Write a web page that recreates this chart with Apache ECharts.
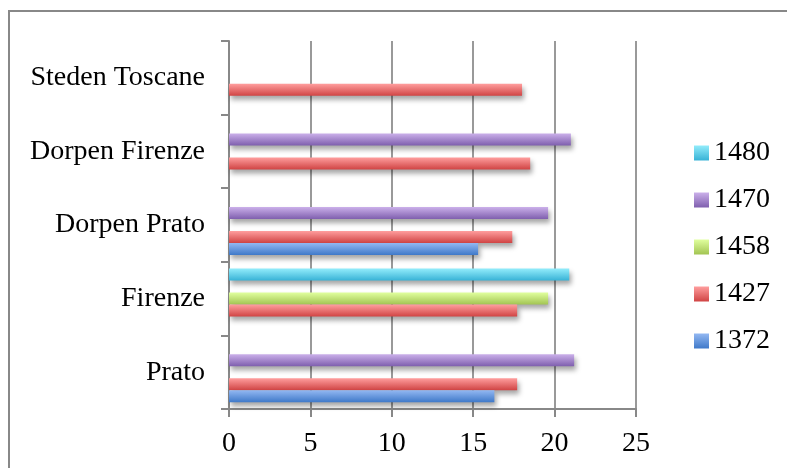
<!DOCTYPE html>
<html>
<head>
<meta charset="utf-8">
<script src="https://cdn.jsdelivr.net/npm/echarts@6/dist/echarts.min.js"></script>
<style>
html,body{margin:0;padding:0;background:#fff;}
#c{width:787px;height:468px;}
</style>
</head>
<body>
<div id="c"></div>
<script>
var categories = ['Prato', 'Firenze', 'Dorpen Prato', 'Dorpen Firenze', 'Steden Toscane'];
var seriesNames = ['1372', '1427', '1458', '1470', '1480'];
var v1372 = [16.3, null, 15.3, null, null];
var v1427 = [17.7, 17.7, 17.4, 18.5, 18.0];
var v1458 = [null, 19.6, null, null, null];
var v1470 = [21.2, null, 19.6, 21.0, null];
var v1480 = [null, 20.9, null, null, null];
var xTicks = [0, 5, 10, 15, 20, 25];

var values = [v1372, v1427, v1458, v1470, v1480];
var colors = [
  ['#93b8f2', '#3f79c9'],
  ['#ff9e9e', '#d04444'],
  ['#e0ff9e', '#a2c452'],
  ['#cbb0ea', '#7f5fae'],
  ['#92ecfb', '#37b2d6']
];
var FONT = 'Liberation Serif';

function grad(c) {
  return new echarts.graphic.LinearGradient(0, 0, 0, 1, [
    {offset: 0, color: c[0]}, {offset: 1, color: c[1]}
  ]);
}

var chart = echarts.init(document.getElementById('c'), null, {renderer: 'canvas'});
var series = [];
for (var i = seriesNames.length - 1; i >= 0; i--) {
  series.push({
    name: seriesNames[i],
    type: 'bar',
    data: values[i],
    barWidth: 12,
    barGap: '0%',
    itemStyle: {
      color: grad(colors[i]),
      shadowColor: 'rgba(0,0,0,0.35)',
      shadowBlur: 5,
      shadowOffsetX: 2,
      shadowOffsetY: 4
    },
    animation: false
  });
}

chart.setOption({
  animation: false,
  backgroundColor: '#fff',
  graphic: [{
    type: 'rect',
    shape: {x: 9, y: 11, width: 820, height: 520},
    style: {fill: 'none', stroke: '#888', lineWidth: 2},
    z: -1
  }],
  grid: {left: 229, right: 151, top: 41, bottom: 59, containLabel: false},
  legend: {
    orient: 'vertical',
    left: 689,
    top: 134,
    itemWidth: 15,
    itemHeight: 15,
    itemGap: 19,
    icon: 'rect',
    data: ['1480', '1470', '1458', '1427', '1372'],
    textStyle: {fontFamily: FONT, fontSize: 28, color: '#000', lineHeight: 28}
  },
  xAxis: {
    type: 'value',
    min: 0,
    max: 25,
    interval: 5,
    axisLine: {show: true, lineStyle: {color: '#888', width: 2}},
    axisTick: {show: true, length: 8, lineStyle: {color: '#888', width: 2}},
    splitLine: {show: true, lineStyle: {color: '#999', width: 2}},
    axisLabel: {
      fontFamily: FONT, fontSize: 28, color: '#000', margin: 21,
      formatter: function (v) { return xTicks.indexOf(v) >= 0 ? String(v) : ''; }
    }
  },
  yAxis: {
    type: 'category',
    data: categories,
    axisLine: {show: true, lineStyle: {color: '#888', width: 2}},
    axisTick: {show: true, length: 8, lineStyle: {color: '#888', width: 2}},
    axisLabel: {fontFamily: FONT, fontSize: 28, color: '#000', margin: 24}
  },
  series: series
});
</script>
</body>
</html>
